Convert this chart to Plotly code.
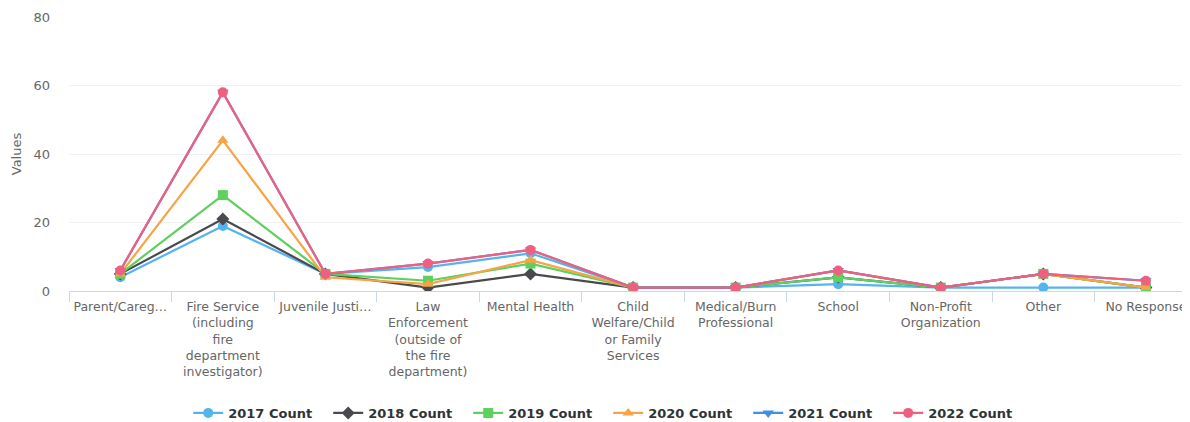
import plotly.graph_objects as go

categories = [
    "Parent/Careg…",
    "Fire Service<br>(including<br>fire<br>department<br>investigator)",
    "Juvenile Justi…",
    "Law<br>Enforcement<br>(outside of<br>the fire<br>department)",
    "Mental Health",
    "Child<br>Welfare/Child<br>or Family<br>Services",
    "Medical/Burn<br>Professional",
    "School",
    "Non-Profit<br>Organization",
    "Other",
    "No Response",
]

series_names = ["2017 Count", "2018 Count", "2019 Count", "2020 Count", "2021 Count", "2022 Count"]
y2017 = [4, 19, 5, 7, 11, 1, 1, 2, 1, 1, 1]
y2018 = [5, 21, 5, 1, 5, 1, 1, 4, 1, 5, 1]
y2019 = [5, 28, 5, 3, 8, 1, 1, 4, 1, 5, 1]
y2020 = [5, 44, 4, 2, 9, 1, 1, 6, 1, 5, 1]
y2021 = [6, 58, 5, 8, 12, 1, 1, 6, 1, 5, 3]
y2022 = [6, 58, 5, 8, 12, 1, 1, 6, 1, 5, 3]
y_ticks = [0, 20, 40, 60, 80]

colors = ["#55b4ee", "#4a4a4e", "#5ed05e", "#f6a446", "#3f8fe6", "#ef5f80"]
symbols = ["circle", "diamond", "square", "triangle-up", "triangle-down", "circle"]
all_series = [y2017, y2018, y2019, y2020, y2021, y2022]

fig = go.Figure()
for name, ys, c, s in zip(series_names, all_series, colors, symbols):
    fig.add_trace(go.Scatter(
        x=categories, y=ys, name=name, mode="lines+markers",
        line=dict(color=c, width=2.2),
        marker=dict(color=c, symbol=s, size=10),
    ))

fig.update_layout(
    width=1182, height=414,
    margin=dict(l=61, r=0, t=9, b=131, autoexpand=False),
    paper_bgcolor="white", plot_bgcolor="white",
    font=dict(family="DejaVu Sans", color="#666666", size=12),
    showlegend=True,
    legend=dict(
        orientation="h", x=0.481, xanchor="center", y=-0.445, yanchor="middle",
        font=dict(family="DejaVu Sans", size=13, color="#333333", weight="bold"),
        itemwidth=30, entrywidth=95, entrywidthmode="pixels",
    ),
)
fig.update_xaxes(
    type="category", range=[-0.5, 10.43], automargin=False,
    showline=True, linecolor="#ccd6eb", linewidth=1,
    ticks="outside", tickson="boundaries", ticklen=10, tickcolor="#ccd6eb",
    showgrid=False, tickangle=0, ticklabelstandoff=4,
    tickfont=dict(size=12.5, color="#666666"),
)
fig.update_yaxes(
    range=[0, 80], tickvals=y_ticks, showline=False, zeroline=False, automargin=False,
    showgrid=True, gridcolor="#f1f1f1",
    tickfont=dict(size=13, color="#666666"),
    ticklabelstandoff=18,
    title=dict(text="Values", font=dict(size=13, color="#666666"), standoff=8),
)

fig.write_html("out.html")
